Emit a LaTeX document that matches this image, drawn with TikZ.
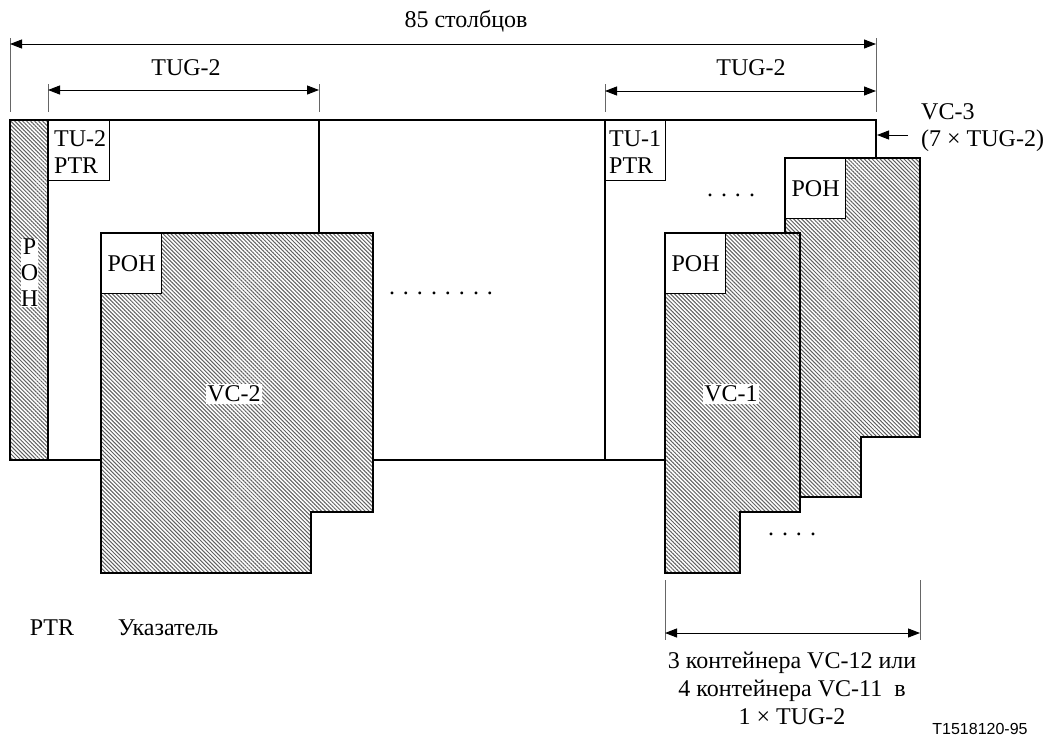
\documentclass[tikz,border=0pt]{standalone}
\usepackage{fontspec}
\setmainfont{Liberation Serif}
\newfontfamily\arialf{Liberation Sans}
\usetikzlibrary{arrows.meta,patterns.meta}
\begin{document}
\begin{tikzpicture}[x=1pt,y=-1pt,
  txt/.style={font=\fontsize{24}{27}\selectfont, inner sep=0pt},
  hatch/.style={preaction={fill=white}, pattern={Lines[angle=-45,distance=2.8pt,line width=1pt]}, pattern color=black!62, draw=black, line width=1.3pt},
  wbox/.style={draw, fill=white, line width=1.2pt, inner sep=0pt, anchor=north west, font=\fontsize{24}{27}\selectfont},
  dimline/.style={{Triangle[length=12pt,width=9pt]}-{Triangle[length=12pt,width=9pt]}, line width=1pt},
  tickline/.style={draw=black!60, line width=0.9pt},
  frame/.style={line width=1.4pt},
  labelbg/.style={txt, fill=white, inner sep=1.5pt}]
\useasboundingbox (0,0) rectangle (1047,736);

% ---- dimension arrows on top
\coordinate (c85l) at (10,44);
\coordinate (c85r) at (876,44);
\draw[tickline] (10,38) -- (10,112);
\draw[tickline] (876,38) -- (876,112);
\draw[dimline] (c85l) -- (c85r);
\node[txt] (t85) at (466,21) {85 столбцов};

\coordinate (tga) at (48,90);
\coordinate (tgb) at (319,90);
\draw[tickline] (48,84) -- (48,112);
\draw[tickline] (319,84) -- (319,112);
\draw[dimline] (tga) -- (tgb);
\node[txt] (tug1) at (186,68) {TUG-2};

\coordinate (tgc) at (605,91);
\coordinate (tgd) at (876,91);
\draw[tickline] (605,84) -- (605,112);
\draw[dimline] (tgc) -- (tgd);
\node[txt] (tug2) at (751,68) {TUG-2};

% ---- main frame
\draw[frame] (665,460) -- (10,460) -- (10,120) -- (876,120) -- (876,158);
\draw[frame] (319,120) -- (319,233);
\draw[line width=2pt] (605,120) -- (605,460);

% ---- POH column
\draw[hatch] (10,120) rectangle (48,460);
\draw[line width=2.2pt] (48,120) -- (48,460);
\node[txt, fill=white, align=center, font=\fontsize{24}{26}\selectfont, minimum width=16pt] (pohcol) at (29.5,273) {P\\O\\H};

% ---- pointer boxes
\node[wbox, minimum width=61pt, minimum height=60pt] (tu2) at (48,120) {};
\node[txt, align=left, anchor=west] (tu2t) at (54,152) {TU-2\\PTR};
\node[wbox, minimum width=60pt, minimum height=60pt] (tu1) at (605,120) {};
\node[txt, align=left, anchor=west] (tu1t) at (609,152) {TU-1\\PTR};

% ---- VC-2
\draw[hatch] (101,233) -- (373,233) -- (373,512) -- (311,512) -- (311,573) -- (101,573) -- cycle;
\node[wbox, minimum width=60pt, minimum height=60pt] (poh2) at (101,233) {POH};
\node[labelbg] (vc2) at (234,394) {VC-2};

\node[txt] (dots1) at (441,293) {. . . . . . . .};

% ---- VC-1 stack (back)
\draw[hatch] (785,158) -- (920,158) -- (920,437) -- (861,437) -- (861,497) -- (785,497) -- cycle;
\node[wbox, minimum width=60pt, minimum height=60pt] (pohb) at (785,158) {POH};
% front
\draw[hatch] (665,233) -- (800,233) -- (800,512) -- (740,512) -- (740,573) -- (665,573) -- cycle;
\node[wbox, minimum width=60pt, minimum height=60pt] (poh1) at (665,233) {POH};
\node[labelbg] (vc1) at (731,394) {VC-1};

\node[txt] (dots2) at (731,195) {. . . .};
\node[txt] (dots3) at (792,534) {. . . .};

% ---- VC-3 label
\coordinate (vcarrs) at (908,135);
\coordinate (vcarre) at (877,135);
\draw[-{Triangle[length=12pt,width=9pt]}, line width=1pt] (vcarrs) -- (vcarre);
\node[txt, align=left, anchor=west] (vc3) at (921,128) {VC-3\\(7 × TUG-2)};

% ---- bottom dimension
\coordinate (bl) at (665,633);
\coordinate (br) at (920,633);
\draw[tickline] (665,580) -- (665,640);
\draw[tickline] (920,580) -- (920,640);
\draw[dimline] (bl) -- (br);
\node[txt, align=center, font=\fontsize{24}{28}\selectfont] (btxt) at (792,688) {3 контейнера VC-12 или\\4 контейнера VC-11~~в\\1 × TUG-2};

% ---- legend
\node[txt] (ptr) at (52,628) {PTR};
\node[txt] (ukaz) at (168,628) {Указатель};
\node[inner sep=0pt, font=\arialf\fontsize{16}{18}\selectfont] (fig) at (980,729) {T1518120-95};
\end{tikzpicture}
\end{document}
